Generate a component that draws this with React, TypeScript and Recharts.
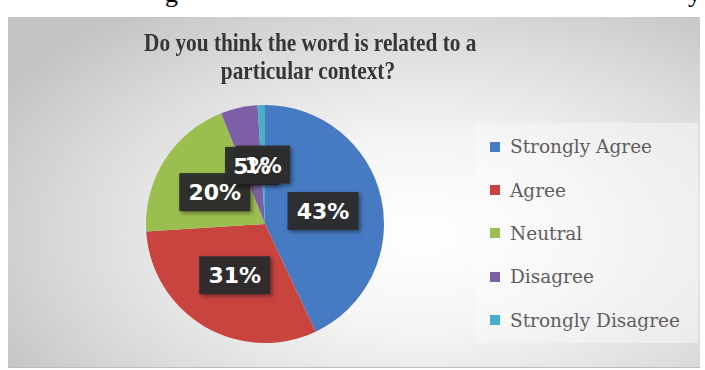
import React from 'react';
import { PieChart, Pie, Cell, Legend, LabelList } from 'recharts';

const categories = ['Strongly Agree', 'Agree', 'Neutral', 'Disagree', 'Strongly Disagree'];
const percentages = [43, 31, 20, 5, 1];
const sliceColors = ['#467bc4', '#c9443f', '#9bbf4f', '#7d5fa8', '#4aaec8'];
const titleLines = ['Do you think the word is related to a', 'particular context?'];

const data = categories.map((name, i) => ({ name, value: percentages[i] }));

const RADIAN = Math.PI / 180;
const LABEL_R = 0.5;

const boxWidth = (text: string) => (text.length === 3 ? 71 : 54);

const renderBox = (props: any) => {
  const { cx, cy, midAngle, outerRadius, value, index } = props;
  const r = outerRadius * LABEL_R;
  const x = cx + r * Math.cos(-midAngle * RADIAN);
  const y = cy + r * Math.sin(-midAngle * RADIAN);
  const text = `${value}%`;
  const w = boxWidth(text);
  const h = 38;
  return (
    <rect key={`box-${index}`} x={x - w / 2} y={y - h / 2} width={w} height={h} fill="#2c2c2c" fillOpacity={0.94} filter="url(#lblShadow)" />
  );
};

const renderText = (props: any) => {
  const { viewBox, value, index } = props;
  if (!viewBox) return null;
  const { cx, cy, outerRadius, startAngle, endAngle } = viewBox;
  const mid = (startAngle + endAngle) / 2;
  const r = outerRadius * LABEL_R;
  const x = cx + r * Math.cos(-mid * RADIAN);
  const y = cy + r * Math.sin(-mid * RADIAN);
  return (
    <text key={`txt-${index}`} x={x} y={y + 8} textAnchor="middle" fill="#ffffff" fontFamily="'DejaVu Sans', sans-serif" fontWeight="bold" fontSize={22}>
      {`${value}%`}
    </text>
  );
};

const renderLegend = (props: any) => {
  const payload = [...(props.payload || [])].sort(
    (a: any, b: any) => categories.indexOf(a.value) - categories.indexOf(b.value)
  );
  return (
    <div style={{ position: 'relative', width: 223, height: 220, background: 'linear-gradient(90deg, rgba(255,255,255,0.25), rgba(248,248,248,0.55))' }}>
      {payload.map((entry: any, i: number) => (
        <div key={`leg-${i}`} style={{ position: 'absolute', left: 15, top: 2 + i * 43.4, height: 43.4, display: 'flex', alignItems: 'center', whiteSpace: 'nowrap' }}>
          <span style={{ display: 'inline-block', width: 10, height: 10, background: entry.color, marginRight: 10 }} />
          <span style={{ fontFamily: "'DejaVu Serif', serif", fontSize: 18.5, color: '#5e5e5e' }}>{entry.value}</span>
        </div>
      ))}
    </div>
  );
};

export default function App() {
  return (
    <div style={{ position: 'absolute', left: 0, top: 0, width: 705, height: 370, background: '#ffffff', overflow: 'hidden' }}>
      <div style={{ position: 'absolute', left: 165, top: -21, fontFamily: "'Liberation Serif', serif", fontSize: 26, color: '#000' }}>g</div>
      <div style={{ position: 'absolute', left: 688, top: -21, fontFamily: "'Liberation Serif', serif", fontSize: 26, color: '#000' }}>y</div>
      <div style={{ position: 'absolute', left: 8, top: 17, width: 692, height: 350, background: 'radial-gradient(ellipse 70% 80% at 60% 62%, #ffffff 0%, #f4f4f4 35%, #dcdcdc 70%, #c4c4c4 100%)', borderBottom: '1px solid #bdbdbd' }} />
      <div style={{ position: 'absolute', left: 108, top: 29, width: 400, textAlign: 'center', fontFamily: "'Liberation Serif', serif", fontWeight: 'bold', fontSize: 26, lineHeight: '28px', color: '#363636', transform: 'scaleX(0.82)', transformOrigin: '200px 0' }}>
        {titleLines.map((t, i) => (
          <div key={i} style={{ whiteSpace: 'nowrap' }}>{t}</div>
        ))}
      </div>
      <div style={{ position: 'absolute', left: 0, top: 0 }}>
        <PieChart width={705} height={370}>
          <defs>
            <filter id="lblShadow" x="-30%" y="-30%" width="160%" height="160%">
              <feDropShadow dx="2" dy="2" stdDeviation="2" floodColor="#000" floodOpacity="0.45" />
            </filter>
          </defs>
          <Pie
            data={data}
            dataKey="value"
            nameKey="name"
            cx={260}
            cy={219}
            outerRadius={119}
            startAngle={90}
            endAngle={-270}
            stroke="none"
            label={renderBox}
            labelLine={false}
            isAnimationActive={false}
          >
            {data.map((d, i) => (
              <Cell key={d.name} fill={sliceColors[i]} />
            ))}
            <LabelList dataKey="value" content={renderText} />
          </Pie>
          <Legend
            layout="vertical"
            align="right"
            verticalAlign="top"
            wrapperStyle={{ position: 'absolute', left: 475, top: 123, width: 223, height: 220 }}
            content={renderLegend}
          />
        </PieChart>
      </div>
    </div>
  );
}
